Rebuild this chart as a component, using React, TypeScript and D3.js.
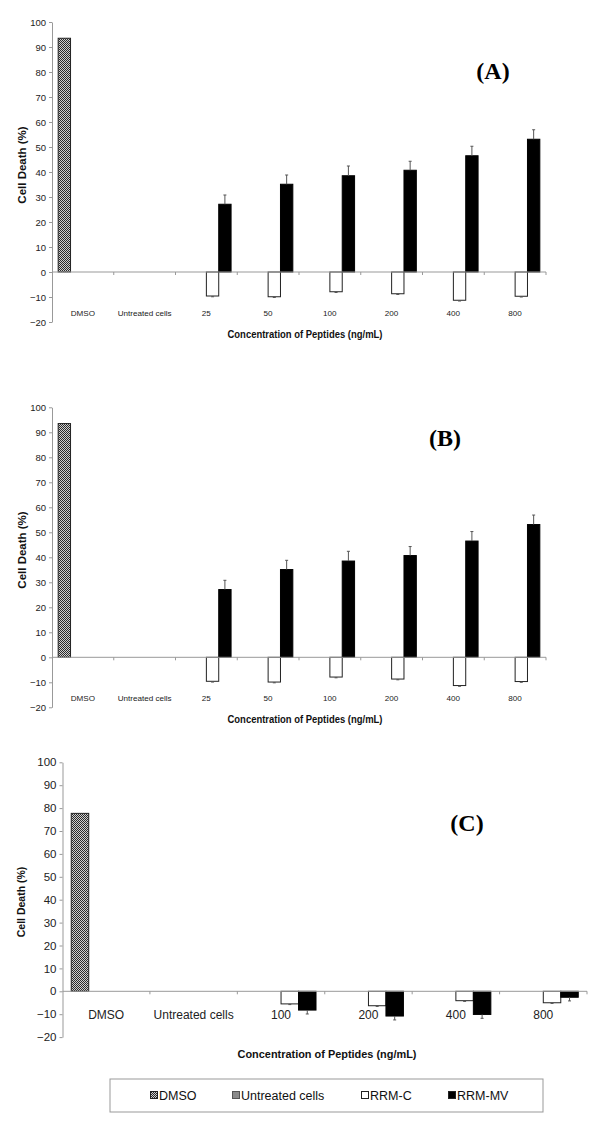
import React, { useEffect, useRef } from "react";
import * as d3 from "d3";

const seriesNames = ["DMSO", "Untreated cells", "RRM-C", "RRM-MV"];
const yTicks = [-20, -10, 0, 10, 20, 30, 40, 50, 60, 70, 80, 90, 100];

// Panel A
const categoriesA = ["DMSO", "Untreated cells", "25", "50", "100", "200", "400", "800"];
const dmsoA = 93.5;
const untreatedA = 0;
const rrmCA = [-9.6, -9.9, -7.9, -8.7, -11.3, -9.7];
const rrmCErrA = [0.3, 0.3, 0.3, 0.3, 0.3, 0.3];
const rrmMVA = [27.1, 35.1, 38.5, 40.7, 46.5, 53.1];
const rrmMVErrA = [3.7, 3.7, 3.9, 3.6, 3.8, 3.8];

// Panel B
const categoriesB = ["DMSO", "Untreated cells", "25", "50", "100", "200", "400", "800"];
const dmsoB = 93.5;
const untreatedB = 0;
const rrmCB = [-9.6, -9.9, -7.9, -8.7, -11.3, -9.7];
const rrmCErrB = [0.3, 0.3, 0.3, 0.3, 0.3, 0.3];
const rrmMVB = [27.1, 35.1, 38.5, 40.7, 46.5, 53.1];
const rrmMVErrB = [3.7, 3.7, 3.9, 3.6, 3.8, 3.8];

// Panel C
const categoriesC = ["DMSO", "Untreated cells", "100", "200", "400", "800"];
const dmsoC = 77.7;
const untreatedC = 0;
const rrmCC = [-5.5, -6.3, -4.1, -5.0];
const rrmCErrC = [0.3, 0.3, 0.3, 0.3];
const rrmMVC = [-8.2, -10.8, -10.1, -2.6];
const rrmMVErrC = [1.7, 1.7, 1.7, 1.6];

const FONT = "Arial, 'Liberation Sans', sans-serif";

const buildRows = (cats, dmso, untreated, rrmC, rrmCErr, rrmMV, rrmMVErr) => {
  const rows = [
    { cat: cats[0], series: "DMSO", value: dmso, err: 0 },
    { cat: cats[1], series: "Untreated cells", value: untreated, err: 0 },
  ];
  cats.slice(2).forEach((c, i) => {
    rows.push({ cat: c, series: "RRM-C", value: rrmC[i], err: rrmCErr[i] });
    rows.push({ cat: c, series: "RRM-MV", value: rrmMV[i], err: rrmMVErr[i] });
  });
  return rows;
};

const panels = [
  {
    cats: categoriesA,
    rows: buildRows(categoriesA, dmsoA, untreatedA, rrmCA, rrmCErrA, rrmMVA, rrmMVErrA),
    left: 52, right: 546, top: 22, bottom: 322,
    tickFont: 9.5, catFont: 8.1, catY: 316, titleY: 338, titleX: 305, titleLen: 155, titleFont: 10.5,
    yLabelX: 26, yLabelY: 165, yLabelFont: 11.5, tag: "(A)", tagX: 493, tagY: 79,
  },
  {
    cats: categoriesB,
    rows: buildRows(categoriesB, dmsoB, untreatedB, rrmCB, rrmCErrB, rrmMVB, rrmMVErrB),
    left: 52, right: 546, top: 407.3, bottom: 707.3,
    tickFont: 9.5, catFont: 8.1, catY: 701, titleY: 723, titleX: 305, titleLen: 155, titleFont: 10.5,
    yLabelX: 26, yLabelY: 550, yLabelFont: 11.5, tag: "(B)", tagX: 445, tagY: 446,
  },
  {
    cats: categoriesC,
    rows: buildRows(categoriesC, dmsoC, untreatedC, rrmCC, rrmCErrC, rrmMVC, rrmMVErrC),
    left: 62.5, right: 587, top: 762.3, bottom: 1037.1,
    tickFont: 11.5, catFont: 12, catY: 1019, titleY: 1058, titleX: 327, titleLen: 179, titleFont: 11,
    yLabelX: 25, yLabelY: 902, yLabelFont: 10.5, tag: "(C)", tagX: 467, tagY: 831,
  },
];

const fills = {
  DMSO: "url(#dmsoPattern)",
  "Untreated cells": "#8a8a8a",
  "RRM-C": "#ffffff",
  "RRM-MV": "#000000",
};

const App = () => {
  const svgRef = useRef();

  useEffect(() => {
    const svg = d3.select(svgRef.current);
    svg.selectAll("*").remove();

    // fine checker pattern for DMSO
    const defs = svg.append("defs");
    const pat = defs
      .append("pattern")
      .attr("id", "dmsoPattern")
      .attr("patternUnits", "userSpaceOnUse")
      .attr("width", 2)
      .attr("height", 2);
    pat.append("rect").attr("width", 2).attr("height", 2).attr("fill", "#cfcfcf");
    pat.append("rect").attr("width", 1).attr("height", 1).attr("fill", "#2a2a2a");
    pat.append("rect").attr("x", 1).attr("y", 1).attr("width", 1).attr("height", 1).attr("fill", "#2a2a2a");

    panels.forEach((p) => {
      const g = svg.append("g");

      const x = d3.scaleBand().domain(p.cats).range([p.left, p.right]);
      const xs = d3
        .scaleBand()
        .domain(seriesNames)
        .range([0, x.bandwidth()])
        .paddingInner(0)
        .paddingOuter(0.5);
      const y = d3.scaleLinear().domain([-20, 100]).range([p.bottom, p.top]);

      // bars
      g.selectAll("rect.bar")
        .data(p.rows.filter((d) => d.value !== 0))
        .enter()
        .append("rect")
        .attr("class", "bar")
        .attr("x", (d) => x(d.cat) + xs(d.series))
        .attr("y", (d) => y(Math.max(d.value, 0)))
        .attr("width", xs.bandwidth())
        .attr("height", (d) => Math.abs(y(d.value) - y(0)))
        .attr("fill", (d) => fills[d.series])
        .attr("stroke", (d) => (d.series === "RRM-MV" ? "#000" : "#222"))
        .attr("stroke-width", 1);

      // error bars
      const errs = p.rows.filter((d) => d.err > 0);
      const ex = (d) => x(d.cat) + xs(d.series) + xs.bandwidth() / 2;
      const ey = (d) => y(d.value + Math.sign(d.value) * d.err);
      g.selectAll("line.err")
        .data(errs)
        .enter()
        .append("line")
        .attr("x1", ex)
        .attr("x2", ex)
        .attr("y1", (d) => y(d.value))
        .attr("y2", ey)
        .attr("stroke", "#555")
        .attr("stroke-width", 1);
      g.selectAll("line.cap")
        .data(errs)
        .enter()
        .append("line")
        .attr("x1", (d) => ex(d) - 1.5)
        .attr("x2", (d) => ex(d) + 1.5)
        .attr("y1", ey)
        .attr("y2", ey)
        .attr("stroke", "#555")
        .attr("stroke-width", 1);

      // y axis
      const yAxis = g
        .append("g")
        .attr("transform", `translate(${p.left},0)`)
        .call(d3.axisLeft(y).tickValues(yTicks).tickSize(3).tickSizeOuter(0).tickPadding(3));
      yAxis.selectAll(".domain").attr("stroke", "#999");
      yAxis.selectAll(".tick line").attr("stroke", "#999");
      yAxis
        .selectAll("text")
        .attr("fill", "#222")
        .style("font-family", FONT)
        .style("font-size", `${p.tickFont}px`);

      // x axis on zero line
      const y0 = y(0);
      g.append("line")
        .attr("x1", p.left)
        .attr("x2", p.right)
        .attr("y1", y0)
        .attr("y2", y0)
        .attr("stroke", "#999");
      const bounds = p.cats.slice(1).map((c) => x(c)).concat([p.right]);
      g.selectAll("line.xtick")
        .data(bounds)
        .enter()
        .append("line")
        .attr("x1", (d) => d)
        .attr("x2", (d) => d)
        .attr("y1", y0)
        .attr("y2", y0 + 3)
        .attr("stroke", "#999");

      g.selectAll("text.cat")
        .data(p.cats)
        .enter()
        .append("text")
        .attr("x", (d) => x(d) + x.bandwidth() / 2)
        .attr("y", p.catY)
        .attr("text-anchor", "middle")
        .attr("fill", "#222")
        .style("font-family", FONT)
        .style("font-size", `${p.catFont}px`)
        .text((d) => d);

      // axis titles
      g.append("text")
        .attr("x", p.titleX)
        .attr("y", p.titleY)
        .attr("text-anchor", "middle")
        .attr("textLength", p.titleLen)
        .attr("lengthAdjust", "spacingAndGlyphs")
        .attr("fill", "#111")
        .style("font-family", FONT)
        .style("font-weight", "bold")
        .style("font-size", `${p.titleFont}px`)
        .text("Concentration of Peptides (ng/mL)");

      g.append("text")
        .attr("transform", `translate(${p.yLabelX},${p.yLabelY}) rotate(-90)`)
        .attr("text-anchor", "middle")
        .attr("fill", "#111")
        .style("font-family", FONT)
        .style("font-weight", "bold")
        .style("font-size", `${p.yLabelFont}px`)
        .text("Cell Death (%)");

      g.append("text")
        .attr("x", p.tagX)
        .attr("y", p.tagY)
        .attr("text-anchor", "middle")
        .attr("fill", "#000")
        .style("font-family", "'Liberation Serif', 'Times New Roman', serif")
        .style("font-weight", "bold")
        .style("font-size", "24px")
        .text(p.tag);
    });

    // legend
    const lg = svg.append("g");
    lg.append("rect")
      .attr("x", 110)
      .attr("y", 1079)
      .attr("width", 433)
      .attr("height", 33)
      .attr("fill", "#fff")
      .attr("stroke", "#999");
    const legendX = d3.scaleOrdinal().domain(seriesNames).range([150, 232, 361, 448]);
    const items = lg
      .selectAll("g.item")
      .data(seriesNames)
      .enter()
      .append("g")
      .attr("transform", (d) => `translate(${legendX(d)},1095)`);
    items
      .append("rect")
      .attr("x", 0.5)
      .attr("y", -3.5)
      .attr("width", 7)
      .attr("height", 7)
      .attr("fill", (d) => fills[d])
      .attr("stroke", (d) => (d === "Untreated cells" ? "#555" : "#222"));
    items
      .append("text")
      .attr("x", 9)
      .attr("y", 4.5)
      .attr("fill", "#111")
      .style("font-family", FONT)
      .style("font-size", "12.5px")
      .text((d) => d);
  }, []);

  return (
    <svg
      ref={svgRef}
      width={600}
      height={1122}
      style={{ position: "absolute", left: 0, top: 0, background: "#fff" }}
    />
  );
};

export default App;
